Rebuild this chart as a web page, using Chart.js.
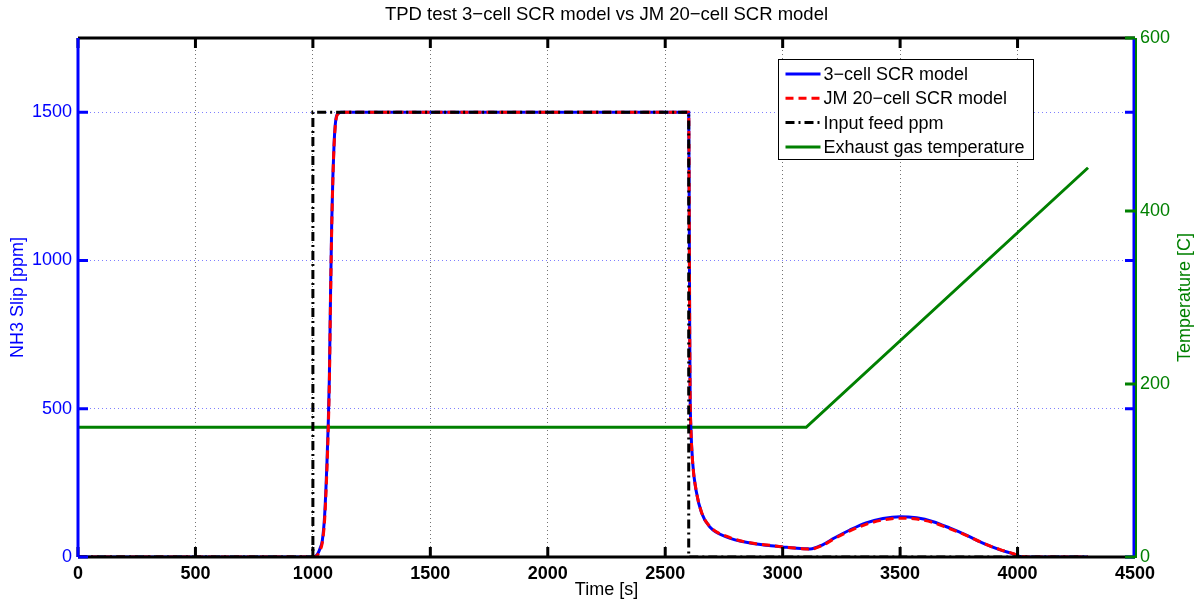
<!DOCTYPE html>
<html>
<head>
<meta charset="utf-8">
<script src="https://cdn.jsdelivr.net/npm/chart.js@4.4.0/dist/chart.umd.min.js"></script>
<style>
  html, body { margin: 0; padding: 0; background: #fff; }
  #wrap { width: 1202px; height: 601px; }
</style>
</head>
<body>
<div id="wrap"><canvas id="tpdChart" width="1202" height="601"></canvas></div>
<script>
// Tick values for the three axes
const timeTicks = [0, 500, 1000, 1500, 2000, 2500, 3000, 3500, 4000, 4500];
const slipTicks = [0, 500, 1000, 1500];
const tempTicks = [0, 200, 400, 600];

// 3-cell SCR model (time [s], NH3 slip [ppm])
const cell3Time = [0, 1000, 1010, 1020, 1030, 1040, 1050, 1060, 1065, 1070, 1075, 1080, 1085, 1090, 1095, 1100, 1110, 1120,
    2600, 2602, 2604, 2606, 2609, 2617, 2631, 2655, 2690, 2760, 2861, 2950, 3000, 3050, 3100, 3116, 3172, 3220, 3286,
    3355, 3427, 3500, 3570, 3641, 3713, 3784, 3855, 3926, 3983, 4010, 4050, 4300];
const cell3Slip = [0, 0, 2, 10, 28, 55, 140, 320, 440, 600, 880, 1120, 1280, 1390, 1455, 1485, 1497, 1500,
    1500, 1200, 800, 550, 440, 317, 226, 148, 101, 68, 47, 38, 34, 30, 28, 27, 42, 64, 91,
    115, 130, 136, 132, 119, 97, 73, 46, 24, 10, 2, 0, 0];

// JM 20-cell SCR model
const jm20Time = [0, 1000, 1010, 1020, 1030, 1040, 1050, 1060, 1065, 1070, 1075, 1080, 1085, 1090, 1095, 1100, 1110, 1120,
    2600, 2602, 2604, 2606, 2609, 2617, 2631, 2655, 2690, 2760, 2861, 2950, 3000, 3050, 3100, 3116, 3172, 3220, 3286,
    3355, 3427, 3500, 3570, 3641, 3713, 3784, 3855, 3926, 3983, 4010, 4050, 4300];
const jm20Slip = [0, 0, 1, 7, 22, 48, 125, 300, 420, 580, 860, 1100, 1270, 1385, 1450, 1482, 1496, 1500,
    1500, 1200, 800, 550, 440, 317, 228, 150, 103, 70, 48, 39, 34, 30, 27, 26, 40, 62, 88,
    110, 125, 131, 128, 116, 95, 72, 46, 25, 11, 3, 0, 0];

// Input feed ppm
const feedTime = [0, 1000, 1000, 2600, 2600, 4300];
const feedPpm = [0, 0, 1500, 1500, 0, 0];

// Exhaust gas temperature [C]
const gasTime = [0, 3100, 4300];
const gasTemp = [150, 150, 450];

const FONT = '"Liberation Sans", Arial, Helvetica, sans-serif';
const BLUE = '#0000ff';
const RED = '#ff0000';
const GREEN = '#008000';

function toPoints(xs, ys) {
    return xs.map((x, i) => ({ x: x, y: ys[i] }));
}

// MATLAB-like box: axis lines with inward tick marks, right axis title
const framePlugin = {
    id: 'frame',
    afterDraw(chart) {
        const ctx = chart.ctx;
        const a = chart.chartArea;
        const sx = chart.scales.x, sy = chart.scales.y, sy2 = chart.scales.y2;
        ctx.save();
        ctx.lineCap = 'butt';
        ctx.lineWidth = 3;

        ctx.strokeStyle = '#000';
        ctx.beginPath();
        ctx.moveTo(a.left, a.top); ctx.lineTo(a.right, a.top);
        ctx.moveTo(a.left, a.bottom); ctx.lineTo(a.right, a.bottom);
        timeTicks.forEach(t => {
            const px = sx.getPixelForValue(t);
            ctx.moveTo(px, a.bottom); ctx.lineTo(px, a.bottom - 10);
            ctx.moveTo(px, a.top); ctx.lineTo(px, a.top + 10);
        });
        ctx.stroke();

        ctx.strokeStyle = BLUE;
        ctx.beginPath();
        ctx.moveTo(a.left, a.top); ctx.lineTo(a.left, a.bottom);
        ctx.moveTo(a.right - 1, a.top); ctx.lineTo(a.right - 1, a.bottom);
        slipTicks.forEach(v => {
            const py = sy.getPixelForValue(v);
            ctx.moveTo(a.left, py); ctx.lineTo(a.left + 10, py);
            ctx.moveTo(a.right, py); ctx.lineTo(a.right - 10, py);
        });
        ctx.stroke();

        ctx.strokeStyle = GREEN;
        ctx.lineWidth = 2;
        ctx.beginPath();
        ctx.moveTo(a.right + 1, a.top); ctx.lineTo(a.right + 1, a.bottom + 1);
        ctx.stroke();
        ctx.lineWidth = 3;
        ctx.beginPath();
        tempTicks.forEach(v => {
            const py = sy2.getPixelForValue(v);
            ctx.moveTo(a.right, py); ctx.lineTo(a.right - 10, py);
        });
        ctx.stroke();

        // right axis title reads bottom-to-top like the left one
        ctx.translate(sy2.right - 17, (a.top + a.bottom) / 2);
        ctx.rotate(-Math.PI / 2);
        ctx.fillStyle = GREEN;
        ctx.font = '18px ' + FONT;
        ctx.textAlign = 'center';
        ctx.textBaseline = 'middle';
        ctx.fillText('Temperature [C]', 0, 0);
        ctx.restore();
    }
};

// Boxed legend in the upper right of the plot
const boxLegendPlugin = {
    id: 'boxLegend',
    afterDraw(chart) {
        const ctx = chart.ctx;
        const a = chart.chartArea;
        const left = a.right - 356.5, top = a.top + 21.5;
        const w = 255, h = 100, rowH = 24.3;
        ctx.save();
        ctx.fillStyle = '#fff';
        ctx.strokeStyle = '#000';
        ctx.lineWidth = 1;
        ctx.fillRect(left, top, w, h);
        ctx.strokeRect(left, top, w, h);
        ctx.font = '18px ' + FONT;
        ctx.textBaseline = 'middle';
        ctx.textAlign = 'left';
        chart.data.datasets.forEach((ds, i) => {
            const cy = top + 14.5 + i * rowH;
            ctx.strokeStyle = ds.borderColor;
            ctx.lineWidth = ds.borderWidth;
            ctx.setLineDash(ds.borderDash || []);
            ctx.beginPath();
            ctx.moveTo(left + 7, cy);
            ctx.lineTo(left + 42, cy);
            ctx.stroke();
            ctx.setLineDash([]);
            ctx.fillStyle = '#000';
            ctx.fillText(ds.label, left + 45, cy + 1);
        });
        ctx.restore();
    }
};

const plainNumber = v => String(v);

new Chart(document.getElementById('tpdChart'), {
    type: 'line',
    data: {
        datasets: [{
            label: '3\u2212cell SCR model',
            data: toPoints(cell3Time, cell3Slip),
            borderColor: BLUE,
            borderWidth: 3,
            cubicInterpolationMode: 'monotone',
            yAxisID: 'y',
            order: 3
        }, {
            label: 'JM 20\u2212cell SCR model',
            data: toPoints(jm20Time, jm20Slip),
            borderColor: RED,
            borderWidth: 3,
            borderDash: [8, 5],
            cubicInterpolationMode: 'monotone',
            yAxisID: 'y',
            order: 2
        }, {
            label: 'Input feed ppm',
            data: toPoints(feedTime, feedPpm),
            borderColor: '#000',
            borderWidth: 3,
            borderDash: [9, 4, 2, 4],
            yAxisID: 'y',
            order: 1
        }, {
            label: 'Exhaust gas temperature',
            data: toPoints(gasTime, gasTemp),
            borderColor: GREEN,
            borderWidth: 3,
            yAxisID: 'y2',
            order: 4
        }]
    },
    options: {
        responsive: false,
        animation: false,
        events: [],
        layout: { padding: 0 },
        elements: {
            point: { radius: 0 },
            line: { tension: 0, fill: false }
        },
        plugins: {
            legend: { display: false },
            tooltip: { enabled: false },
            title: {
                display: true,
                fullSize: false,
                text: 'TPD test 3\u2212cell SCR model vs JM 20\u2212cell SCR model',
                color: '#000',
                font: { family: FONT, size: 18.5, weight: 'normal', lineHeight: 1.2 },
                padding: { top: 4, bottom: 11.8 }
            }
        },
        scales: {
            x: {
                type: 'linear',
                min: 0,
                max: 4500,
                afterBuildTicks: s => { s.ticks = timeTicks.map(v => ({ value: v })); },
                afterFit: s => { s.height = 44; },
                ticks: {
                    autoSkip: false,
                    maxRotation: 0,
                    padding: 6,
                    color: '#000',
                    callback: plainNumber,
                    font: { family: FONT, size: 18, weight: 'bold' }
                },
                grid: {
                    drawTicks: false,
                    color: 'rgba(0,0,0,0.55)',
                    lineWidth: 1
                },
                border: { display: false, dash: [1, 3] },
                title: {
                    display: true,
                    text: 'Time [s]',
                    color: '#000',
                    font: { family: FONT, size: 18, lineHeight: 1.2 },
                    padding: { top: 0, bottom: 0.2 }
                }
            },
            y: {
                type: 'linear',
                position: 'left',
                min: 0,
                max: 1750,
                afterBuildTicks: s => { s.ticks = slipTicks.map(v => ({ value: v })); },
                afterFit: s => { s.width = 78; },
                ticks: {
                    autoSkip: false,
                    padding: 6,
                    color: BLUE,
                    callback: plainNumber,
                    font: { family: FONT, size: 18 }
                },
                grid: {
                    drawTicks: false,
                    color: 'rgba(0,0,255,0.5)',
                    lineWidth: 1
                },
                border: { display: false, dash: [1, 3] },
                title: {
                    display: true,
                    text: 'NH3 Slip [ppm]',
                    color: BLUE,
                    font: { family: FONT, size: 18, lineHeight: 1.2 },
                    padding: { top: 7.2, bottom: 0 }
                }
            },
            y2: {
                type: 'linear',
                position: 'right',
                min: 0,
                max: 600,
                afterBuildTicks: s => { s.ticks = tempTicks.map(v => ({ value: v })); },
                afterFit: s => { s.width = 67; },
                ticks: {
                    autoSkip: false,
                    padding: 5,
                    color: GREEN,
                    callback: plainNumber,
                    font: { family: FONT, size: 18 }
                },
                grid: { display: false, drawTicks: false },
                border: { display: false }
            }
        }
    },
    plugins: [framePlugin, boxLegendPlugin]
});
</script>
</body>
</html>
